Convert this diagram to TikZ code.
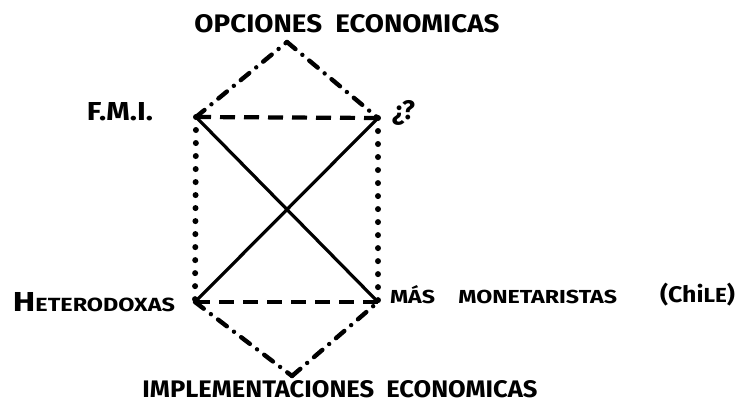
\documentclass[tikz,border=0pt]{standalone}
\usepackage{fontspec}
\setmainfont{Fira Sans}
\usepackage{tikz}
\usetikzlibrary{positioning}

\begin{document}
\begin{tikzpicture}[
  x=1pt, y=-1pt,
  lbl/.style={inner sep=0pt,outer sep=0pt,font=\bfseries},
  solidln/.style={line width=3.2pt},
  dashln/.style={line width=4.2pt,dash pattern=on 15pt off 9pt},
  dotln/.style={line width=6pt,line cap=round,dash pattern=on 0.01pt off 13pt},
  dashdot/.style={line width=4.4pt,line cap=round,dash pattern=on 11pt off 9pt on 0.01pt off 9pt},
]
\useasboundingbox[fill=white] (0,0) rectangle (736,404);

% corners of the diagram
\coordinate (op)  at (287,42);
\coordinate (fmi) at (196,117);
\coordinate (qq)  at (378,118);
\coordinate (het) at (195,302);
\coordinate (mas) at (378,302);
\coordinate (im)  at (292,376);

% labels
\node[lbl,above=9pt of op,xshift=60pt] (lop) {\resizebox{305pt}{18pt}{OPCIONES\ \ ECONOMICAS}};
\node[lbl,left=43pt of fmi,yshift=5pt] (lfmi) {\resizebox{66pt}{18pt}{F.M.I.}};
\node[lbl,right=14pt of qq,yshift=5pt] (lqq) {\resizebox*{23pt}{25pt}{¿?}};
\node[lbl,left=20pt of het] (lhet) {\resizebox{162pt}{19pt}{{\Large H}ETERODOXAS}};
\node[lbl,right=12pt of mas,yshift=7pt] (lmas) {\resizebox{227pt}{18pt}{MÁS\quad MONETARISTAS}};
\node[lbl,right=43pt of lmas] (lchile) {\resizebox*{75pt}{23pt}{(Chi{\small LE})}};
\node[lbl,below=4pt of im,xshift=48pt] (lim) {\resizebox{395pt}{17pt}{IMPLEMENTACIONES\ \ ECONOMICAS}};

% connectors
\draw[dashdot] (fmi) -- (op);
\draw[dashdot] (op) -- (qq);
\draw[dashln] (fmi) -- (qq);
\draw[dotln] (fmi) -- (het);
\draw[dotln] (qq) -- (mas);
\draw[solidln] (fmi) -- (mas);
\draw[solidln] (qq) -- (het);
\draw[dashln] (het) -- (mas);
\draw[dashdot] (het) -- (im);
\draw[dashdot] (im) -- (mas);

\end{tikzpicture}
\end{document}
